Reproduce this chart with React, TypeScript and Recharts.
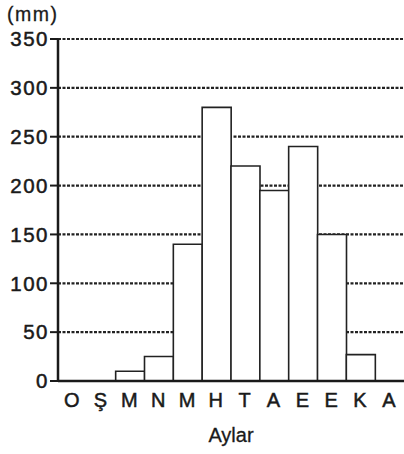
import React from "react";
import { BarChart, Bar, XAxis, YAxis, CartesianGrid } from "recharts";

// Monthly rainfall (mm), Oct..Sep order as printed on the axis
const months = ["O", "Ş", "M", "N", "M", "H", "T", "A", "E", "E", "K", "A"];
const rainfall = [0, 0, 10, 25, 140, 280, 220, 195, 240, 150, 27, 0];
const yTicks = [0, 50, 100, 150, 200, 250, 300, 350];

const data = months.map((m, i) => ({ key: `${m}-${i}`, month: m, value: rainfall[i] }));

const INK = "#1a1a1a";
const FONT = '"Liberation Sans", Arial, sans-serif';
// scanned print looks slightly heavier than a regular weight
const textStyle = { fill: INK, stroke: INK, strokeWidth: 0.5, fontFamily: FONT };

export default function App() {
  return (
    <div style={{ position: "absolute", left: 0, top: 0, background: "#fff" }}>
      <BarChart
        width={404}
        height={454}
        data={data}
        margin={{ top: 39, right: 0, bottom: 0, left: 0 }}
        barCategoryGap={0}
        barGap={0}
      >
        <CartesianGrid
          vertical={false}
          stroke="#222"
          strokeWidth={2.2}
          strokeDasharray="3 1.5"
        />
        <XAxis
          dataKey="key"
          tickFormatter={(_v: string, i: number) => months[i]}
          interval={0}
          height={73}
          tickSize={0}
          tickMargin={12}
          axisLine={{ stroke: INK, strokeWidth: 2.5 }}
          tick={{ ...textStyle, fontSize: 20, letterSpacing: 1.5 }}
          label={{
            value: "Aylar",
            position: "insideBottom",
            offset: 12,
            ...textStyle,
            strokeWidth: 0.3,
            fontSize: 20,
          }}
        />
        <YAxis
          domain={[0, 350]}
          ticks={yTicks}
          width={58}
          tickSize={8}
          tickMargin={1}
          interval={0}
          axisLine={{ stroke: INK, strokeWidth: 2.5 }}
          tickLine={{ stroke: INK, strokeWidth: 2 }}
          tick={{ ...textStyle, fontSize: 20.5, letterSpacing: 1.5 }}
          label={{
            content: () => (
              <text x={7} y={21} {...textStyle} strokeWidth={0.3} fontSize={19.5} letterSpacing={1.5}>
                (mm)
              </text>
            ),
          }}
        />
        <Bar
          dataKey="value"
          fill="#fff"
          stroke="#222"
          strokeWidth={1.6}
          isAnimationActive={false}
        />
      </BarChart>
    </div>
  );
}
